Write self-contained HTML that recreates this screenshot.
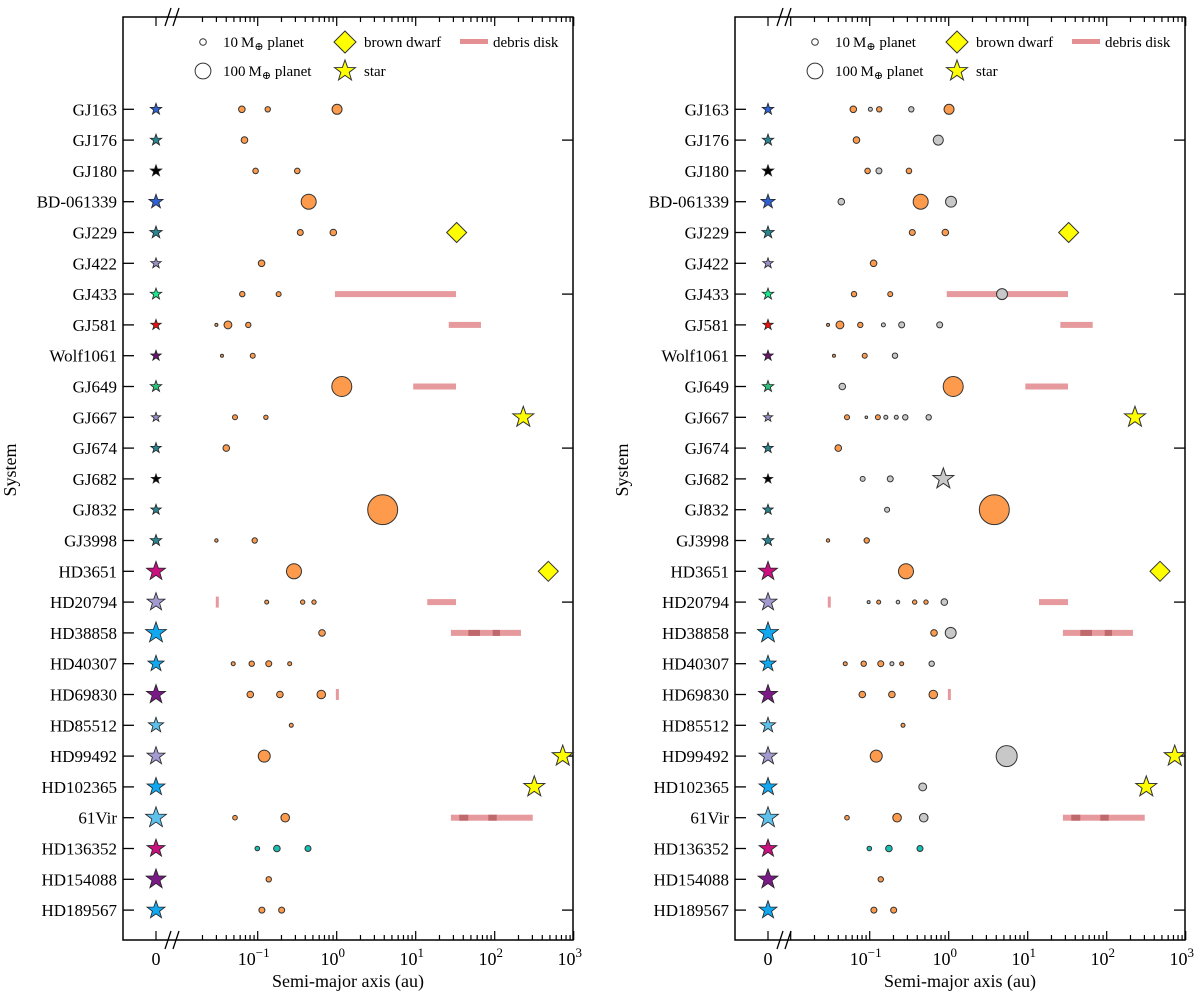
<!DOCTYPE html>
<html><head><meta charset="utf-8"><style>
html,body{margin:0;padding:0;background:#fff;}
svg{display:block;font-family:"Liberation Serif","DejaVu Serif",serif;}
</style></head><body>
<svg id="chart" width="1200" height="993" viewBox="0 0 1200 993"></svg>
<script>
const systems=["GJ163","GJ176","GJ180","BD-061339","GJ229","GJ422","GJ433","GJ581","Wolf1061","GJ649","GJ667","GJ674","GJ682","GJ832","GJ3998","HD3651","HD20794","HD38858","HD40307","HD69830","HD85512","HD99492","HD102365","61Vir","HD136352","HD154088","HD189567"];
const starMass=[0.55,0.55,0.55,0.68,0.59,0.5,0.55,0.5,0.5,0.55,0.45,0.5,0.45,0.5,0.55,0.91,0.86,1.0,0.77,0.91,0.73,0.86,0.86,1.0,0.86,0.95,0.86];
const starColor=["#2f62d0","#2a8590","#000000","#2f62d0","#2a8590","#9a92c8","#1ee88c","#ee1010","#6a1470","#2cc27a","#9a92c8","#2a8590","#000000","#2a8590","#2a8590","#c8117f","#a39bd0","#11a8f0","#11a8f0","#7a1a86","#5ec1ec","#a39bd0","#11a8f0","#5ec1ec","#c8117f","#7a1a86","#11a8f0"];
const planetsLeft=[[0,0.063,10,"o"],[0,0.134,5.9,"o"],[0,1.01,30,"o"],[1,0.068,10,"o"],[2,0.094,6.5,"o"],[2,0.317,6.5,"o"],[3,0.442,87,"o"],[4,0.346,7.8,"o"],[4,0.906,10,"o"],[5,0.112,10,"o"],[6,0.0638,5.9,"o"],[6,0.184,4.8,"o"],[7,0.030,1.26,"o"],[7,0.042,16,"o"],[7,0.076,5.9,"o"],[8,0.0353,1.26,"o"],[8,0.0865,4.8,"o"],[9,1.16,185,"o"],[10,0.0516,4.8,"o"],[10,0.127,3.4,"o"],[11,0.040,10,"o"],[13,3.82,535,"o"],[14,0.030,1.75,"o"],[14,0.0917,5.9,"o"],[15,0.288,87,"o"],[16,0.130,2.7,"o"],[16,0.371,3.4,"o"],[16,0.516,3.4,"o"],[17,0.652,10,"o"],[18,0.049,2.7,"o"],[18,0.084,5.9,"o"],[18,0.138,7.8,"o"],[18,0.254,2.7,"o"],[19,0.0806,10,"o"],[19,0.191,10,"o"],[19,0.638,20,"o"],[20,0.266,2.7,"o"],[21,0.121,48,"o"],[23,0.0516,3.9,"o"],[23,0.223,20,"o"],[24,0.0989,3.9,"t"],[24,0.175,10,"t"],[24,0.433,7.8,"t"],[25,0.138,5.9,"o"],[26,0.113,7.8,"o"],[26,0.201,7.8,"o"]];
const planetsRight=[[0,0.062,10,"o"],[0,0.102,2.7,"g"],[0,0.132,5.9,"o"],[0,0.336,5.9,"g"],[0,1.01,30,"o"],[1,0.068,10,"o"],[1,0.738,30,"g"],[2,0.094,6.5,"o"],[2,0.131,7.8,"g"],[2,0.314,6.5,"o"],[3,0.0437,10,"g"],[3,0.442,87,"o"],[3,1.07,38,"g"],[4,0.346,7.8,"o"],[4,0.906,10,"o"],[5,0.112,10,"o"],[6,0.0633,5.9,"o"],[6,0.182,4.8,"o"],[6,4.73,38,"g"],[7,0.0297,1.26,"o"],[7,0.042,16,"o"],[7,0.076,5.9,"o"],[7,0.149,2.7,"g"],[7,0.254,7.8,"g"],[7,0.769,7.8,"g"],[8,0.0353,1.26,"o"],[8,0.0865,4.8,"o"],[8,0.209,5.9,"g"],[9,0.045,10,"g"],[9,1.14,185,"o"],[10,0.0516,4.8,"o"],[10,0.0906,0.86,"g"],[10,0.127,4.8,"o"],[10,0.160,2.7,"g"],[10,0.217,2.7,"g"],[10,0.282,5.9,"g"],[10,0.558,5.9,"g"],[11,0.040,10,"o"],[12,0.0815,4.8,"g"],[12,0.182,7.8,"g"],[13,0.166,4.8,"g"],[13,3.78,535,"o"],[14,0.0297,1.75,"o"],[14,0.0917,5.9,"o"],[15,0.288,87,"o"],[16,0.097,1.26,"g"],[16,0.130,2.7,"o"],[16,0.228,2.0,"g"],[16,0.371,3.4,"o"],[16,0.516,3.4,"o"],[16,0.880,10,"g"],[17,0.652,10,"o"],[17,1.06,38,"g"],[18,0.049,2.7,"o"],[18,0.084,5.9,"o"],[18,0.138,7.8,"o"],[18,0.191,2.7,"g"],[18,0.254,2.7,"o"],[18,0.609,5.9,"g"],[19,0.0806,10,"o"],[19,0.191,10,"o"],[19,0.638,20,"o"],[20,0.264,2.7,"o"],[21,0.121,48,"o"],[21,5.42,210,"g"],[22,0.469,16,"g"],[23,0.0516,3.9,"o"],[23,0.222,20,"o"],[23,0.483,20,"g"],[24,0.0989,3.9,"t"],[24,0.175,10,"t"],[24,0.433,7.8,"t"],[25,0.138,5.9,"o"],[26,0.113,7.8,"o"],[26,0.201,7.8,"o"]];
const companionsLeft=[[4,33,"bd"],[15,477,"bd"],[10,230,"st"],[21,726,"st"],[22,317,"st"]];
const companionsRight=[[4,33,"bd"],[15,473,"bd"],[10,228,"st"],[21,726,"st"],[22,317,"st"],[12,0.855,"gs"]];
const disksLeft=[[6,0.95,32.4],[7,26.2,67],[9,9.3,32.4],[16,0.0308,0.0308],[16,14,32.4],[17,27.9,215],[19,1.02,1.02],[23,27.9,303]];
const disksRight=[[6,0.944,32.4],[7,25.9,66.5],[9,9.33,32.4],[16,0.0308,0.0308],[16,13.9,32.4],[17,27.9,215],[19,1.02,1.02],[23,27.9,303]];
const beltsDark=[[17,46.3,65.2],[17,94.3,117],[23,35.6,46.3],[23,83,106]];
const decadeLabels=["-1","0","1","2","3"];

const NS="http://www.w3.org/2000/svg";
const svg=document.getElementById("chart");
function mk(tag,attrs,parent){const e=document.createElementNS(NS,tag);for(const k in attrs)e.setAttribute(k,attrs[k]);(parent||svg).appendChild(e);return e;}
const TOP=17,BOT=940,ROW0=109.3,ROWSTEP=30.8;
const yRow=r=>ROW0+r*ROWSTEP;
const rPlanet=m=>3.3*Math.pow(m/10,0.38);
const pColor={o:"#fd9a4b",g:"#c8c8c8",t:"#17bfb4"};
function starPts(cx,cy,R){const ri=R*0.4;let p=[];for(let i=0;i<10;i++){const ang=-Math.PI/2+i*Math.PI/5;const rr=i%2?ri:R;p.push((cx+rr*Math.cos(ang)).toFixed(2)+","+(cy+rr*Math.sin(ang)).toFixed(2));}return p.join(" ");}

function panel(off,planets,comps,disks,name){
  const g=mk("g",{});
  
  
  const L=123+off,R=573+off,X0=156+off;
  const xs=a=>336.7+off+79*Math.log10(a);
  const fr=mk("rect",{x:L,y:TOP,width:R-L,height:BOT-TOP,fill:"none",stroke:"#000","stroke-width":1.5},g);
  
  
  const tk=(x,len)=>{mk("line",{x1:x,y1:BOT,x2:x,y2:BOT-len,stroke:"#000","stroke-width":1.2},g);mk("line",{x1:x,y1:TOP,x2:x,y2:TOP+len,stroke:"#000","stroke-width":1.2},g);};
  tk(X0,9);
  for(let d=-2;d<3;d++){for(let k=1;k<10;k++){const a=k*Math.pow(10,d);const x=xs(a);if(x<200||x>R+0.5)continue;tk(x,k===1?9:5);}}
  tk(xs(1000),9);
  const t0=mk("text",{x:X0,y:965,"text-anchor":"middle","font-size":18},g);t0.textContent="0";
  
  
  decadeLabels.forEach(e=>{
    const t=mk("text",{x:xs(Math.pow(10,+e))-4,y:965,"text-anchor":"middle","font-size":18},g);
    
    
    t.textContent="10";
    const s=mk("tspan",{dy:-8,"font-size":13},t);s.textContent=e.replace("-","\u2212");
  });
  [TOP,BOT].forEach(y=>{[168,176].forEach(bx=>{mk("line",{x1:bx+off-3,y1:y+9,x2:bx+off+3,y2:y-9,stroke:"#000","stroke-width":1.3},g);});});
  const xt=mk("text",{x:348+off,y:987,"text-anchor":"middle","font-size":18},g);xt.textContent="Semi-major axis (au)";
  
  
  const yt=mk("text",{x:0,y:0,"text-anchor":"middle","font-size":18,transform:`translate(${16+off},470) rotate(-90)`},g);yt.textContent="System";
  
  
  systems.forEach((s,i)=>{
    const y=yRow(i);
    mk("line",{x1:L,y1:y,x2:L+11,y2:y,stroke:"#000","stroke-width":1.3},g);
    if(i%5===1)mk("line",{x1:R-11,y1:y,x2:R,y2:y,stroke:"#000","stroke-width":1.3},g);
    const t=mk("text",{x:117+off,y:y+6,"text-anchor":"end","font-size":17},g);t.textContent=s;
    
    
    const st=mk("polygon",{points:starPts(X0,y,11*starMass[i]),fill:starColor[i],stroke:"#222","stroke-width":0.8},g);
    
    
  });
  disks.forEach(d=>{
    const y=yRow(d[0]);let x1=xs(d[1]),x2=xs(d[2]);
    let el;
    if(x2-x1<2){el=mk("rect",{x:x1-1.5,y:y-5.5,width:3,height:11,fill:"#e48f92",opacity:0.9},g);}
    else el=mk("rect",{x:x1,y:y-3,width:x2-x1,height:6,fill:"#e48f92",opacity:0.9},g);
    
    
  });
  beltsDark.forEach(d=>{
    const y=yRow(d[0]);const x1=xs(d[1]),x2=xs(d[2]);
    const el=mk("rect",{x:x1,y:y-3,width:x2-x1,height:6,fill:"#b55d62",opacity:0.8},g);
    
    
  });
  planets.forEach(p=>{
    const c=mk("circle",{cx:xs(p[1]),cy:yRow(p[0]),r:rPlanet(p[2]),fill:pColor[p[3]],stroke:"#333","stroke-width":1},g);
    
    
  });
  comps.forEach(c=>{
    const x=xs(c[1]),y=yRow(c[0]);let el;
    if(c[2]==="bd")el=mk("polygon",{points:`${x},${y-10} ${x+10},${y} ${x},${y+10} ${x-10},${y}`,fill:"#ffff00",stroke:"#333","stroke-width":1},g);
    else el=mk("polygon",{points:starPts(x,y,11),fill:c[2]==="gs"?"#c8c8c8":"#ffff00",stroke:"#333","stroke-width":1},g);
    
    
  });
  const lg=mk("g",{},g);
  
  
  mk("circle",{cx:203+off,cy:42,r:3.3,fill:"#fff",stroke:"#333","stroke-width":1},lg);
  mk("circle",{cx:203+off,cy:71,r:7.9,fill:"#fff",stroke:"#333","stroke-width":1},lg);
  const lt=(x,y,txt,sub)=>{const t=mk("text",{x:x+off,y:y+5,"font-size":15},lg);
    
    
    if(sub){const a=mk("tspan",{},t);a.textContent=txt[0]+"\u2009M";const b=mk("tspan",{dy:3,"font-size":11},t);b.textContent="\u2295";const c=mk("tspan",{dy:-3},t);c.textContent=" planet";}
    else t.textContent=txt;};
  lt(223,42,["10"],true);lt(223,71,["100"],true);
  mk("polygon",{points:`${345+off},31 ${356+off},42 ${345+off},53 ${334+off},42`,fill:"#ffff00",stroke:"#333","stroke-width":1},lg);
  mk("polygon",{points:starPts(345+off,71,11),fill:"#ffff00",stroke:"#333","stroke-width":1},lg);
  lt(364,42,"brown dwarf");lt(364,71,"star");
  mk("rect",{x:460+off,y:39,width:28,height:5,fill:"#e48f92"},lg);
  lt(493,42,"debris disk");
}
panel(0,planetsLeft,companionsLeft,disksLeft,"left-panel-confirmed");
panel(612,planetsRight,companionsRight,disksRight,"right-panel-with-candidates");
</script>
</body></html>
